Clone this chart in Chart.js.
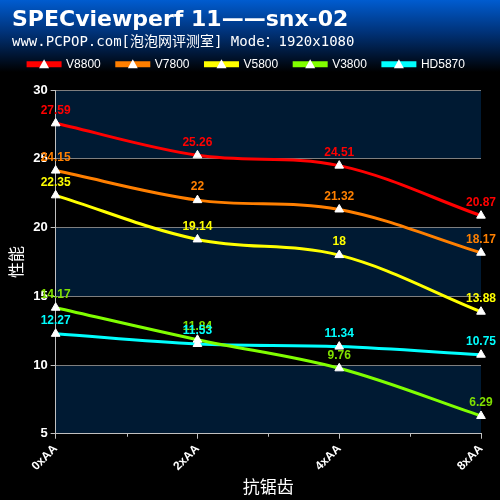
<!DOCTYPE html>
<html>
<head>
<meta charset="utf-8">
<script src="https://cdn.jsdelivr.net/npm/chart.js@4"></script>
<style>
html, body { margin: 0; padding: 0; background: #000; }
#wrap { width: 500px; height: 500px; }
</style>
</head>
<body>
<div id="wrap"><canvas id="perf"></canvas></div>
<script>
var categories = ["0xAA", "2xAA", "4xAA", "8xAA"];
var seriesNames = ["V8800", "V7800", "V5800", "V3800", "HD5870"];
var v8800 = [27.59, 25.26, 24.51, 20.87];
var v7800 = [24.15, 22, 21.32, 18.17];
var v5800 = [22.35, 19.14, 18, 13.88];
var v3800 = [14.17, 11.84, 9.76, 6.29];
var hd5870 = [12.27, 11.53, 11.34, 10.75];
var yTicks = [5, 10, 15, 20, 25, 30];

var lineColors = ["#ff0000", "#ff7f00", "#ffff00", "#80ff00", "#00ffff"];
var labelColors = ["#ff0000", "#ff8000", "#ffff00", "#80e000", "#00ffff"];
var values = [v8800, v7800, v5800, v3800, hd5870];

// header gradient, bands behind the plot
var background = {
    id: 'background',
    afterInit: function (chart) {
        // leave some room between legend and plot
        var lg = chart.legend;
        var fit = lg.fit;
        lg.fit = function () {
            fit.call(this);
            this.height += 10;
        };
    },
    beforeDraw: function (chart) {
        var ctx = chart.ctx;
        ctx.save();
        ctx.fillStyle = '#000';
        ctx.fillRect(0, 0, chart.width, chart.height);
        var g = ctx.createLinearGradient(0, 0, 0, 72);
        g.addColorStop(0, '#005cd0');
        g.addColorStop(0.45, '#003278');
        g.addColorStop(1, '#000000');
        ctx.fillStyle = g;
        ctx.fillRect(0, 0, chart.width, 72);
        var y = chart.scales.y, a = chart.chartArea;
        for (var i = 0; i < yTicks.length - 1; i++) {
            if (i % 2 == 1) continue;
            var top = y.getPixelForValue(yTicks[i + 1]);
            var bot = y.getPixelForValue(yTicks[i]);
            ctx.fillStyle = '#001a33';
            ctx.fillRect(a.left, top, a.right - a.left, bot - top);
        }
        ctx.restore();
    }
};

// minor ticks on x axis, triangles on legend, value labels
var extras = {
    id: 'extras',
    afterDraw: function (chart) {
        var ctx = chart.ctx;
        var x = chart.scales.x, a = chart.chartArea;
        ctx.save();
        ctx.strokeStyle = '#c0c0c0';
        ctx.lineWidth = 1;
        for (var i = 0; i < categories.length - 1; i++) {
            var mx = Math.round((x.getPixelForValue(i) + x.getPixelForValue(i + 1)) / 2) + 0.5;
            ctx.beginPath();
            ctx.moveTo(mx, a.bottom);
            ctx.lineTo(mx, a.bottom + 3);
            ctx.stroke();
        }
        var boxes = chart.legend.legendHitBoxes;
        ctx.fillStyle = '#fff';
        for (var j = 0; j < boxes.length; j++) {
            var b = boxes[j];
            var cx = b.left + 16, cy = b.top + b.height / 2;
            ctx.beginPath();
            ctx.moveTo(cx, cy - 5);
            ctx.lineTo(cx + 5, cy + 4);
            ctx.lineTo(cx - 5, cy + 4);
            ctx.closePath();
            ctx.fill();
        }
        ctx.font = 'bold 12px "Liberation Sans", Arial, sans-serif';
        ctx.textAlign = 'center';
        ctx.textBaseline = 'bottom';
        chart.data.datasets.forEach(function (ds, d) {
            var meta = chart.getDatasetMeta(d);
            ctx.fillStyle = labelColors[d];
            meta.data.forEach(function (pt, k) {
                ctx.fillText(String(ds.data[k]), pt.x, pt.y - 7);
            });
        });
        ctx.restore();
    }
};

var datasets = seriesNames.map(function (name, i) {
    return {
        label: name,
        data: values[i],
        borderColor: lineColors[i],
        backgroundColor: lineColors[i],
        borderWidth: 3,
        tension: 0.35,
        pointStyle: 'triangle',
        pointRadius: 5,
        pointBackgroundColor: '#fff',
        pointBorderColor: '#fff',
        pointBorderWidth: 1
    };
});

new Chart(document.getElementById('perf'), {
    type: 'line',
    data: { labels: categories, datasets: datasets },
    plugins: [background, extras],
    options: {
        responsive: true,
        maintainAspectRatio: false,
        animation: false,
        layout: { padding: { left: 12, right: 19, top: 0, bottom: 3 } },
        plugins: {
            title: {
                display: true,
                text: 'SPECviewperf 11——snx-02',
                align: 'start',
                color: '#fff',
                font: { family: '"DejaVu Sans", sans-serif', size: 22, weight: 'bold' },
                padding: { top: 7, bottom: 0 }
            },
            subtitle: {
                display: true,
                text: 'www.PCPOP.com[泡泡网评测室] Mode：1920x1080',
                align: 'start',
                color: '#fff',
                font: { family: '"DejaVu Sans Mono", "Noto Sans CJK SC", monospace', size: 14 },
                padding: { top: 1, bottom: -9 }
            },
            legend: {
                display: true,
                position: 'top',
                labels: {
                    color: '#fff',
                    boxWidth: 32,
                    boxHeight: 3,
                    padding: 16,
                    font: { family: '"Liberation Sans", Arial, sans-serif', size: 12 }
                }
            },
            tooltip: { enabled: false }
        },
        scales: {
            x: {
                offset: false,
                grid: { display: true, drawOnChartArea: false, drawTicks: true, tickLength: 5, color: '#c0c0c0' },
                border: { color: '#c0c0c0', width: 1 },
                ticks: {
                    color: '#fff',
                    maxRotation: 45,
                    minRotation: 45,
                    font: { family: '"Liberation Sans", Arial, sans-serif', size: 12, weight: 'bold' }
                },
                title: {
                    display: true,
                    text: '抗锯齿',
                    color: '#fff',
                    font: { family: '"Noto Sans CJK SC", sans-serif', size: 17 },
                    padding: { top: 0, bottom: 0 }
                }
            },
            y: {
                min: 5,
                max: 30,
                afterBuildTicks: function (scale) {
                    scale.ticks = yTicks.map(function (v) { return { value: v }; });
                },
                grid: { color: '#7f7f7f', tickLength: 5, tickColor: '#c0c0c0' },
                border: { color: '#c0c0c0', width: 1 },
                ticks: {
                    color: '#fff',
                    padding: 3,
                    font: { family: '"Liberation Sans", Arial, sans-serif', size: 13, weight: 'bold' }
                },
                title: {
                    display: true,
                    text: '性能',
                    color: '#fff',
                    font: { family: '"Noto Sans CJK SC", sans-serif', size: 16 },
                    padding: { top: -6, bottom: 5 }
                }
            }
        }
    }
});
</script>
</body>
</html>
